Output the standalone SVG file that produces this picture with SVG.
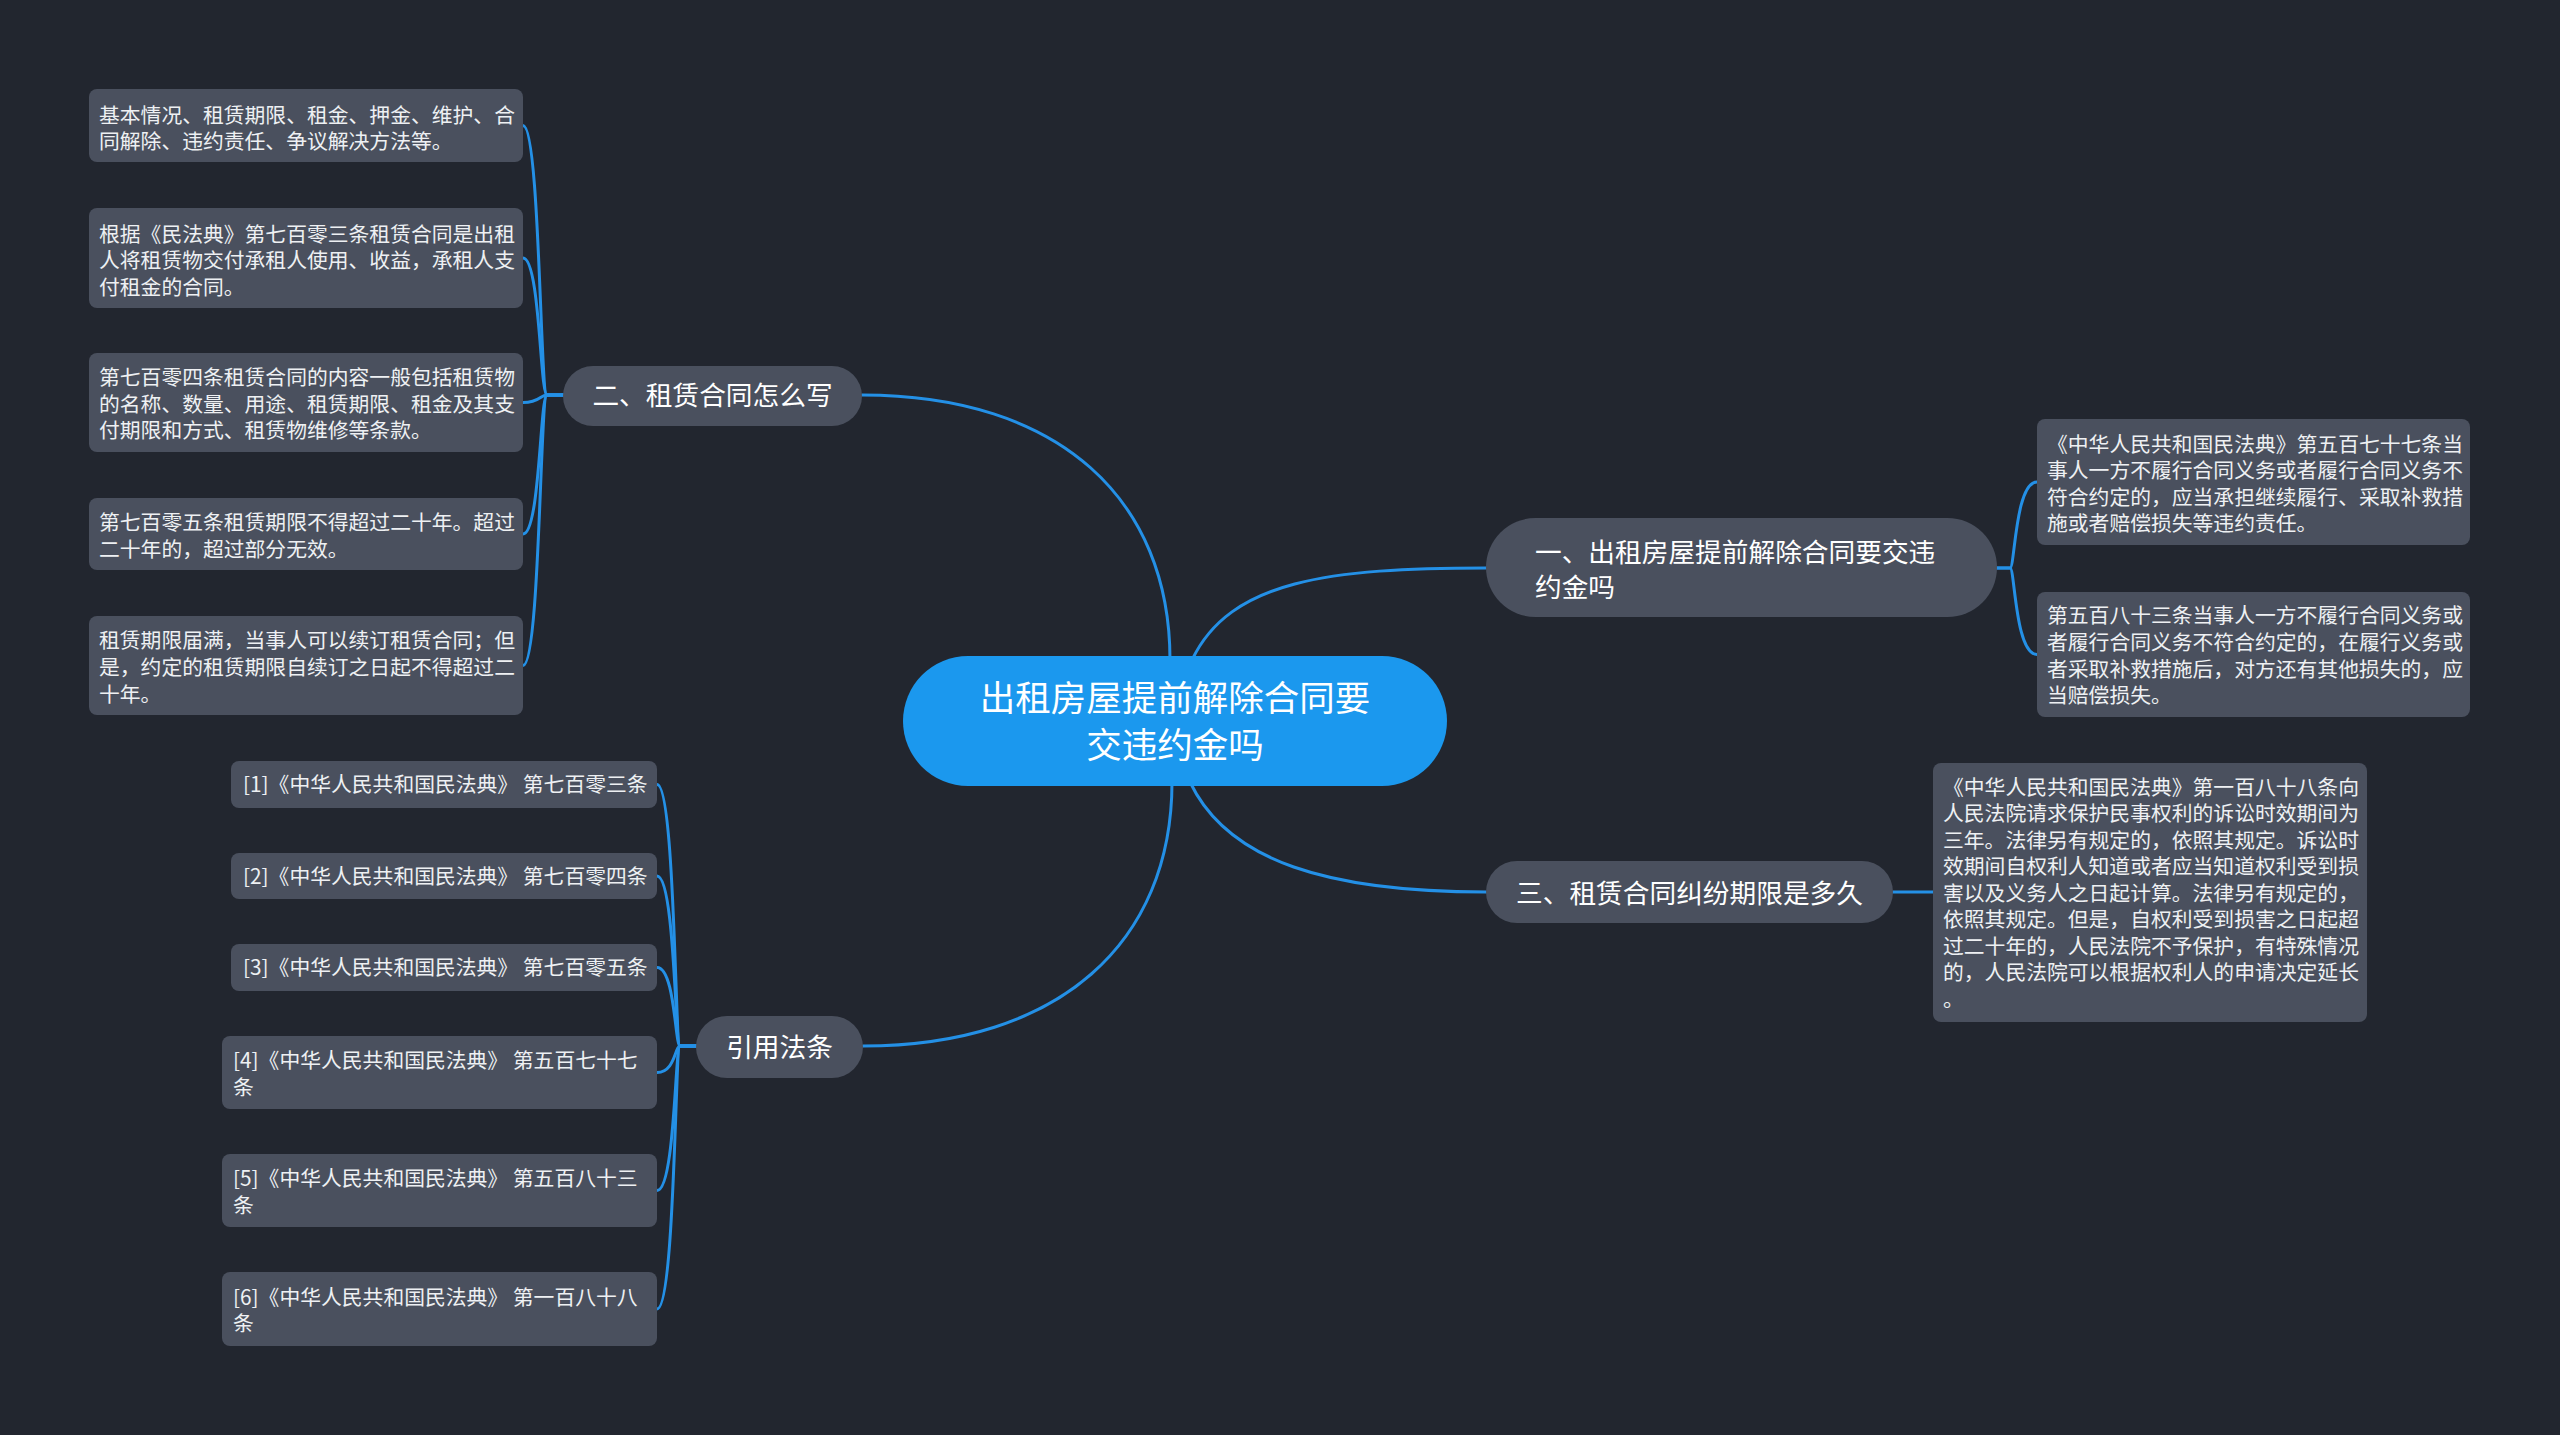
<svg xmlns="http://www.w3.org/2000/svg" width="2560" height="1435" viewBox="0 0 2560 1435">
<style>
.bg{fill:#22262f}
.pill{fill:#4a505e}
.leaf{fill:#4a505e}
.root{fill:#1b98ee}
.lk{fill:none;stroke:#2490e6;stroke-width:3;stroke-linecap:round}
.t{font-family:"Noto Sans CJK SC","Noto Sans",sans-serif;fill:#ffffff}
.lt{font-size:20.8px;fill:#eef0f3}
.mt{font-size:26.7px}
.rt{font-size:35.5px}
</style>
<rect class="bg" x="0" y="0" width="2560" height="1435"/>

<g id="connectors">
  <!-- root to main topics -->
  <path class="lk" d="M1170,660 C1170,500 1060,395 862,395"/>
  <path class="lk" d="M1192,660 C1230,580 1330,568 1486,568"/>
  <path class="lk" d="M1190,782 C1228,862 1330,892 1486,892"/>
  <path class="lk" d="M1172,782 C1172,942 1060,1046 863,1046"/>
  <!-- 二 group -->
  <path class="lk" d="M563,395 H547 C540,395 540,125.5 523,125.5"/>
  <path class="lk" d="M563,395 H547 C540,395 540,258 523,258"/>
  <path class="lk" d="M563,395 H547 C540,395 540,402.5 523,402.5"/>
  <path class="lk" d="M563,395 H547 C540,395 540,534 523,534"/>
  <path class="lk" d="M563,395 H547 C540,395 540,665.5 523,665.5"/>
  <!-- 一 group -->
  <path class="lk" d="M1997,568 H2010 C2015,568 2015,482 2037,482"/>
  <path class="lk" d="M1997,568 H2010 C2015,568 2015,654.5 2037,654.5"/>
  <!-- 三 group -->
  <path class="lk" d="M1893,892 H1933"/>
  <!-- 引用法条 group -->
  <path class="lk" d="M696,1046 H680 C675,1046 675,784.5 657,784.5"/>
  <path class="lk" d="M696,1046 H680 C675,1046 675,876 657,876"/>
  <path class="lk" d="M696,1046 H680 C675,1046 675,967.5 657,967.5"/>
  <path class="lk" d="M696,1046 H680 C675,1046 675,1072.5 657,1072.5"/>
  <path class="lk" d="M696,1046 H680 C675,1046 675,1190.5 657,1190.5"/>
  <path class="lk" d="M696,1046 H680 C675,1046 675,1309 657,1309"/>
</g>

<g id="root">
  <rect class="root" x="903" y="656" width="544" height="130" rx="65"/>
  <text class="t rt" x="1175" y="711" text-anchor="middle">出租房屋提前解除合同要</text>
  <text class="t rt" x="1175" y="758" text-anchor="middle">交违约金吗</text>
</g>

<g id="topic-2">
  <rect class="pill" x="563" y="366" width="299" height="60" rx="30"/>
  <text class="t mt" x="712.5" y="405" text-anchor="middle">二、租赁合同怎么写</text>
</g>
<g id="topic-1">
  <rect class="pill" x="1486" y="518" width="511" height="99" rx="49.5"/>
  <text class="t mt" x="1535" y="561.5">一、出租房屋提前解除合同要交违</text>
  <text class="t mt" x="1535" y="597">约金吗</text>
</g>
<g id="topic-3">
  <rect class="pill" x="1486" y="861" width="407" height="62" rx="31"/>
  <text class="t mt" x="1689.5" y="902.5" text-anchor="middle">三、租赁合同纠纷期限是多久</text>
</g>
<g id="topic-ref">
  <rect class="pill" x="696" y="1016" width="167" height="62" rx="31"/>
  <text class="t mt" x="779.5" y="1056.5" text-anchor="middle">引用法条</text>
</g>

<g id="leaf-2-1">
  <rect class="leaf" x="89" y="89" width="434" height="73" rx="8"/>
  <text class="t lt" x="99" y="122.5">基本情况、租赁期限、租金、押金、维护、合</text>
  <text class="t lt" x="99" y="148.5">同解除、违约责任、争议解决方法等。</text>
</g>
<g id="leaf-2-2">
  <rect class="leaf" x="89" y="208" width="434" height="100" rx="8"/>
  <text class="t lt" x="99" y="241.5">根据《民法典》第七百零三条租赁合同是出租</text>
  <text class="t lt" x="99" y="268">人将租赁物交付承租人使用、收益，承租人支</text>
  <text class="t lt" x="99" y="294.5">付租金的合同。</text>
</g>
<g id="leaf-2-3">
  <rect class="leaf" x="89" y="353" width="434" height="99" rx="8"/>
  <text class="t lt" x="99" y="385">第七百零四条租赁合同的内容一般包括租赁物</text>
  <text class="t lt" x="99" y="411.5">的名称、数量、用途、租赁期限、租金及其支</text>
  <text class="t lt" x="99" y="438">付期限和方式、租赁物维修等条款。</text>
</g>
<g id="leaf-2-4">
  <rect class="leaf" x="89" y="498" width="434" height="72" rx="8"/>
  <text class="t lt" x="99" y="529.5">第七百零五条租赁期限不得超过二十年。超过</text>
  <text class="t lt" x="99" y="556.5">二十年的，超过部分无效。</text>
</g>
<g id="leaf-2-5">
  <rect class="leaf" x="89" y="616" width="434" height="99" rx="8"/>
  <text class="t lt" x="99" y="648">租赁期限届满，当事人可以续订租赁合同；但</text>
  <text class="t lt" x="99" y="674.5">是，约定的租赁期限自续订之日起不得超过二</text>
  <text class="t lt" x="99" y="701.5">十年。</text>
</g>

<g id="leaf-1-1">
  <rect class="leaf" x="2037" y="419" width="433" height="126" rx="8"/>
  <text class="t lt" x="2047" y="451.5">《中华人民共和国民法典》第五百七十七条当</text>
  <text class="t lt" x="2047" y="478">事人一方不履行合同义务或者履行合同义务不</text>
  <text class="t lt" x="2047" y="504.5">符合约定的，应当承担继续履行、采取补救措</text>
  <text class="t lt" x="2047" y="531">施或者赔偿损失等违约责任。</text>
</g>
<g id="leaf-1-2">
  <rect class="leaf" x="2037" y="592" width="433" height="125" rx="8"/>
  <text class="t lt" x="2047" y="623">第五百八十三条当事人一方不履行合同义务或</text>
  <text class="t lt" x="2047" y="649.5">者履行合同义务不符合约定的，在履行义务或</text>
  <text class="t lt" x="2047" y="676.5">者采取补救措施后，对方还有其他损失的，应</text>
  <text class="t lt" x="2047" y="703">当赔偿损失。</text>
</g>

<g id="leaf-3-1">
  <rect class="leaf" x="1933" y="763" width="434" height="259" rx="8"/>
  <text class="t lt" x="1943" y="794.5">《中华人民共和国民法典》第一百八十八条向</text>
  <text class="t lt" x="1943" y="821">人民法院请求保护民事权利的诉讼时效期间为</text>
  <text class="t lt" x="1943" y="847.5">三年。法律另有规定的，依照其规定。诉讼时</text>
  <text class="t lt" x="1943" y="874">效期间自权利人知道或者应当知道权利受到损</text>
  <text class="t lt" x="1943" y="900.5">害以及义务人之日起计算。法律另有规定的，</text>
  <text class="t lt" x="1943" y="927">依照其规定。但是，自权利受到损害之日起超</text>
  <text class="t lt" x="1943" y="953.5">过二十年的，人民法院不予保护，有特殊情况</text>
  <text class="t lt" x="1943" y="980">的，人民法院可以根据权利人的申请决定延长</text>
  <text class="t lt" x="1943" y="1006.5">。</text>
</g>

<g id="ref-1">
  <rect class="leaf" x="231" y="761" width="426" height="47" rx="8"/>
  <text class="t lt" x="243" y="792">[1]《中华人民共和国民法典》 第七百零三条</text>
</g>
<g id="ref-2">
  <rect class="leaf" x="231" y="853" width="426" height="46" rx="8"/>
  <text class="t lt" x="243" y="884">[2]《中华人民共和国民法典》 第七百零四条</text>
</g>
<g id="ref-3">
  <rect class="leaf" x="231" y="944" width="426" height="47" rx="8"/>
  <text class="t lt" x="243" y="975">[3]《中华人民共和国民法典》 第七百零五条</text>
</g>
<g id="ref-4">
  <rect class="leaf" x="222" y="1036" width="435" height="73" rx="8"/>
  <text class="t lt" x="233" y="1067.5">[4]《中华人民共和国民法典》 第五百七十七</text>
  <text class="t lt" x="233" y="1094.5">条</text>
</g>
<g id="ref-5">
  <rect class="leaf" x="222" y="1154" width="435" height="73" rx="8"/>
  <text class="t lt" x="233" y="1185.5">[5]《中华人民共和国民法典》 第五百八十三</text>
  <text class="t lt" x="233" y="1212.5">条</text>
</g>
<g id="ref-6">
  <rect class="leaf" x="222" y="1272" width="435" height="74" rx="8"/>
  <text class="t lt" x="233" y="1304.5">[6]《中华人民共和国民法典》 第一百八十八</text>
  <text class="t lt" x="233" y="1330.5">条</text>
</g>
</svg>
